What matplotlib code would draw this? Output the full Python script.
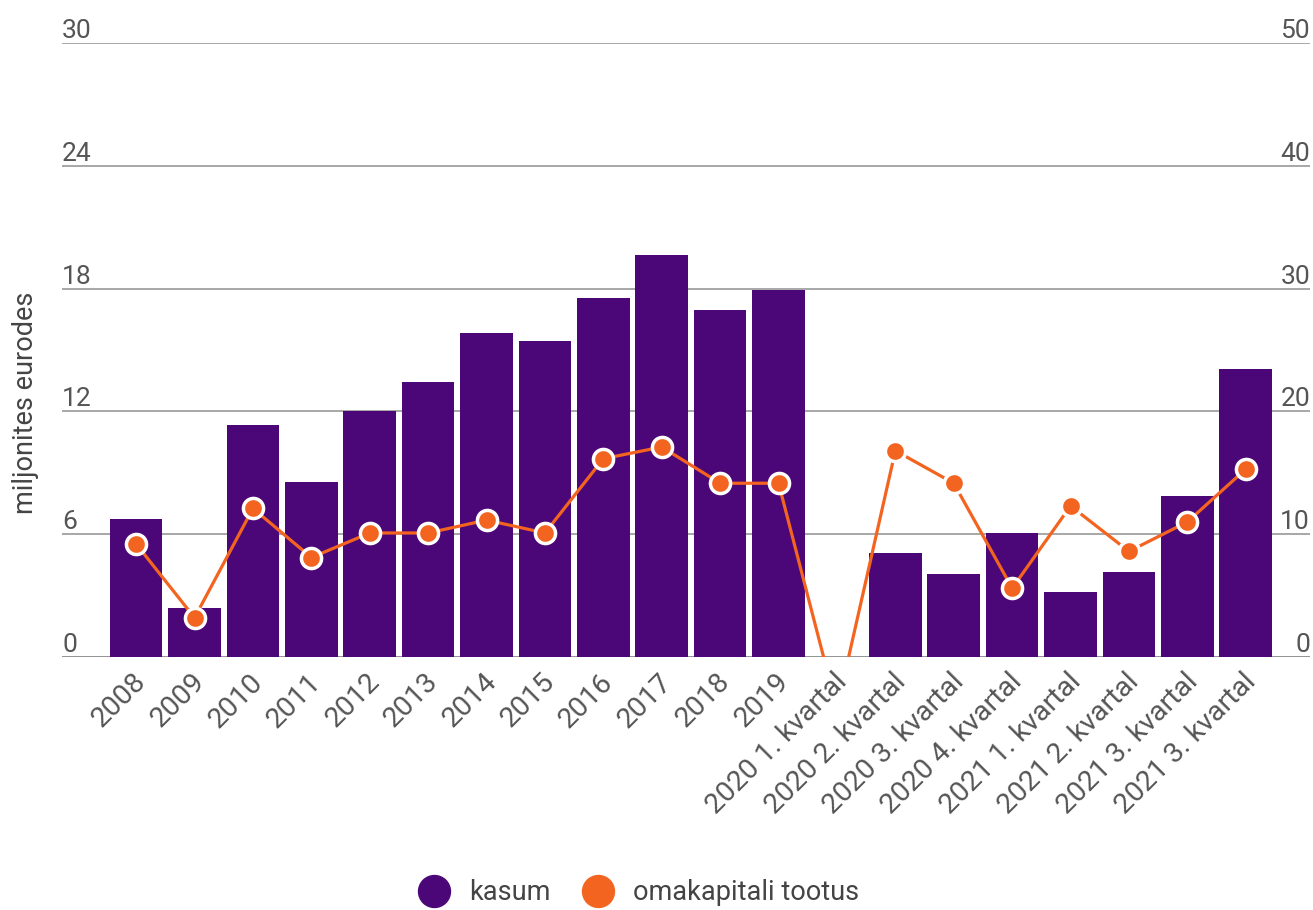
import matplotlib.pyplot as plt
import matplotlib.transforms as mtransforms
from matplotlib.lines import Line2D
import numpy as np

plt.rcParams['font.family'] = ['Roboto', 'DejaVu Sans']

# Data
labels = ['2008', '2009', '2010', '2011', '2012', '2013', '2014', '2015',
          '2016', '2017', '2018', '2019',
          '2020 1. kvartal', '2020 2. kvartal', '2020 3. kvartal', '2020 4. kvartal',
          '2021 1. kvartal', '2021 2. kvartal', '2021 3. kvartal', '2021 3. kvartal']
kasum = [6.75, 2.4, 11.35, 8.55, 12.0, 13.45, 15.85, 15.45,
         17.55, 19.65, 16.95, 17.95,
         -1.5, 5.1, 4.05, 6.05,
         3.2, 4.15, 7.85, 14.05]
tootlus = [9.2, 3.2, 12.1, 8.1, 10.1, 10.1, 11.15, 10.1,
           16.15, 17.1, 14.15, 14.15,
           -4.2, 16.8, 14.15, 5.6,
           12.3, 8.6, 11.0, 15.3]
left_ticks = [0, 6, 12, 18, 24, 30]
right_ticks = [0, 10, 20, 30, 40, 50]

purple = '#4B0777'
orange = '#F36420'
grey_text = '#555555'

fig = plt.figure(figsize=(13.13, 9.10), dpi=100)
W, H = 1313, 910
ax = fig.add_axes([62 / W, (H - 657) / H, (1310 - 62) / W, (657 - 43) / H])
x = np.arange(len(labels))

ax.bar(x, kasum, width=0.9, color=purple, zorder=2)
ax.set_ylim(0, 30)
ax.set_xlim(-1.27, 20.1)

# gridlines
for t in left_ticks:
    ax.axhline(t, color='#8a8a8a' if t == 0 else '#a0a0a0', lw=1.3, zorder=1)

for s in ax.spines.values():
    s.set_visible(False)
ax.set_yticks([])
ax.tick_params(axis='x', length=0, pad=15)
ax.set_xticks(x)
ax.set_xticklabels(labels, rotation=45, ha='right', va='center', rotation_mode='anchor',
                   fontsize=20.5, color=grey_text)
shift = mtransforms.ScaledTranslation(6 / 100, 0, fig.dpi_scale_trans)
for lab in ax.get_xticklabels():
    lab.set_transform(lab.get_transform() + shift)

# y tick labels sitting above gridlines
for t in left_ticks:
    ax.text(0, t, str(t), transform=ax.get_yaxis_transform(), ha='left', va='bottom',
            fontsize=19, color=grey_text)

ax2 = ax.twinx()
ax2.set_ylim(0, 50)
ax2.set_yticks([])
for s in ax2.spines.values():
    s.set_visible(False)
for t in right_ticks:
    ax2.text(1, t, str(t), transform=ax2.get_yaxis_transform(), ha='right', va='bottom',
             fontsize=19, color=grey_text)

ax2.plot(x, tootlus, color=orange, lw=2.3, marker='o', markersize=14.5,
         markerfacecolor=orange, markeredgecolor='white', markeredgewidth=2.5, zorder=3)

fig.text(26 / W, 1 - 403 / H, 'miljonites eurodes', rotation=90, ha='center', va='center',
         fontsize=19.5, color='#444444')

handles = [Line2D([], [], ls='none', marker='o', markersize=23, color=purple),
           Line2D([], [], ls='none', marker='o', markersize=23, color=orange)]
fig.legend(handles, ['kasum', 'omakapitali tootus'], loc='center', bbox_to_anchor=(637 / W, 1 - 893 / H),
           ncol=2, frameon=False, fontsize=19.5, handlelength=1.4, handletextpad=0.6,
           columnspacing=1.05, labelcolor='#444444')

fig.savefig('out.png', dpi=100)
